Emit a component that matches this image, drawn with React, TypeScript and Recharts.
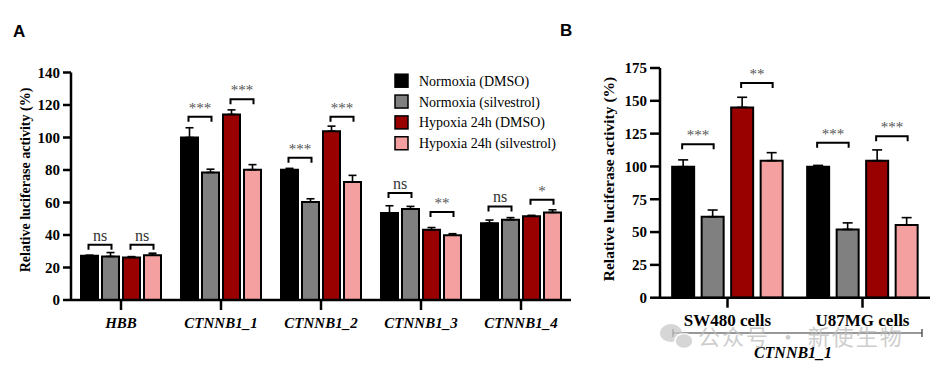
import { BarChart, Bar, XAxis, YAxis, ErrorBar, LabelList, Legend } from "recharts";

// ---- panel A data (relative luciferase activity, %) ----
const GENES = ["HBB", "CTNNB1_1", "CTNNB1_2", "CTNNB1_3", "CTNNB1_4"];
const A_NORM_DMSO = [27.2, 100, 80.2, 53.5, 47.3];
const A_NORM_DMSO_SD = [0.4, 6, 0.8, 4.5, 1.9];
const A_NORM_SIL = [26.8, 78.5, 60.3, 56, 49.4];
const A_NORM_SIL_SD = [2.4, 2, 2, 1.6, 1.3];
const A_HYP_DMSO = [26.2, 114.2, 103.9, 43.2, 51.6];
const A_HYP_DMSO_SD = [0.5, 2.8, 3.1, 1.4, 0.5];
const A_HYP_SIL = [27.6, 80.2, 72.6, 39.9, 53.9];
const A_HYP_SIL_SD = [1.2, 3.1, 4.1, 0.9, 1.6];
// significance brackets: normoxia pair and hypoxia pair
const A_SIG1_LEVEL = [34, 112.8, 87.6, 65.8, 57.6];
const A_SIG1_TEXT = ["ns", "***", "***", "ns", "ns"];
const A_SIG2_LEVEL = [34, 123.5, 112.8, 54.1, 61.7];
const A_SIG2_TEXT = ["ns", "***", "***", "**", "*"];
const A_TICKS = [0, 20, 40, 60, 80, 100, 120, 140];

// ---- panel B data ----
const CELLS = ["SW480 cells", "U87MG cells"];
const B_NORM_DMSO = [99.8, 99.8];
const B_NORM_DMSO_SD = [5.2, 1];
const B_NORM_SIL = [61.7, 52];
const B_NORM_SIL_SD = [5.1, 5];
const B_HYP_DMSO = [145, 104.4];
const B_HYP_DMSO_SD = [7.7, 8.2];
const B_HYP_SIL = [104.4, 55.4];
const B_HYP_SIL_SD = [6.1, 5.6];
const B_SIG1_LEVEL = [117, 118];
const B_SIG1_TEXT = ["***", "***"];
const B_SIG2_LEVEL = [163.6, 123];
const B_SIG2_TEXT = ["**", "***"];
const B_TICKS = [0, 25, 50, 75, 100, 125, 150, 175];

const SERIES = [
  { key: "normDmso", name: "Normoxia (DMSO)", color: "#000000" },
  { key: "normSil", name: "Normoxia (silvestrol)", color: "#808080" },
  { key: "hypDmso", name: "Hypoxia 24h (DMSO)", color: "#990000" },
  { key: "hypSil", name: "Hypoxia 24h (silvestrol)", color: "#f4a0a0" },
];

const SERIF = "Liberation Serif, Tinos, Times New Roman, DejaVu Serif, serif";

function buildRows(cats: string[], cols: number[][], sds: number[][]) {
  return cats.map((name, i) => {
    const row: any = { name };
    SERIES.forEach((s, j) => {
      row[s.key] = cols[j][i];
      row[s.key + "Err"] = [0, sds[j][i]];
    });
    return row;
  });
}

const dataA = buildRows(
  GENES,
  [A_NORM_DMSO, A_NORM_SIL, A_HYP_DMSO, A_HYP_SIL],
  [A_NORM_DMSO_SD, A_NORM_SIL_SD, A_HYP_DMSO_SD, A_HYP_SIL_SD],
);
const dataB = buildRows(
  CELLS,
  [B_NORM_DMSO, B_NORM_SIL, B_HYP_DMSO, B_HYP_SIL],
  [B_NORM_DMSO_SD, B_NORM_SIL_SD, B_HYP_DMSO_SD, B_HYP_SIL_SD],
);

// bracket drawn from the centre of this bar to the centre of the next one;
// the level is converted to pixels with the bar's own geometry
function bracket(levels: number[], texts: string[], gap: number) {
  return (props: any) => {
    const vb = props.viewBox ?? {};
    const x = Number(props.x ?? vb.x);
    const y = Number(props.y ?? vb.y);
    const w = Number(props.width ?? vb.width);
    const h = Number(props.height ?? vb.height);
    const v = Number(props.value);
    const i = props.index;
    if (!v || !isFinite(x)) return null;
    const base = y + h;
    const yl = base - (levels[i] * h) / v;
    const x1 = x + w / 2 - 1;
    const x2 = x + w / 2 + w + gap + 1;
    const t = texts[i];
    return (
      <g>
        <path d={`M${x1},${yl + 5}V${yl}H${x2}V${yl + 5}`} fill="none" stroke="#000" strokeWidth={2} />
        <text
          x={(x1 + x2) / 2}
          y={yl - 4}
          textAnchor="middle"
          style={{ fontFamily: SERIF }}
          fontSize={t === "ns" ? 16 : 15}
          fill={t === "ns" ? "#333" : "#555"}
        >
          {t}
        </text>
      </g>
    );
  };
}

function LegendBox() {
  return (
    <svg width={180} height={84}>
      {SERIES.map((s, i) => {
        const cy = 8.7 + i * 20.85;
        return (
          <g key={s.key}>
            <rect x={1} y={cy - 6.5} width={13} height={13} fill={s.color} stroke="#000" strokeWidth={1.5} />
            <text x={25} y={cy + 5} style={{ fontFamily: SERIF }} fontSize={14} fill="#000">
              {s.name}
            </text>
          </g>
        );
      })}
    </svg>
  );
}

const axisLine = { stroke: "#000", strokeWidth: 2.5 };
const numTick = { fill: "#000", fontSize: 15, fontWeight: 700, fontFamily: SERIF, style: { fontFamily: SERIF } };

export default function App() {
  return (
    <div style={{ position: "absolute", left: 0, top: 0, width: 946, height: 376, background: "#fff", overflow: "hidden", fontFamily: SERIF }}>
      <div style={{ position: "absolute", left: 0, top: 0 }}>
        <BarChart
          width={600}
          height={376}
          data={dataA}
          margin={{ top: 72.5, right: 29, bottom: 46, left: 11 }}
          barGap={4}
          barCategoryGap="10%"
          style={{ fontFamily: SERIF }}
        >
          <XAxis
            dataKey="name"
            height={30}
            axisLine={axisLine}
            tickLine={axisLine}
            tickSize={10}
            tickMargin={7}
            interval={0}
            tick={{ fill: "#000", fontSize: 15, fontWeight: 700, fontStyle: "italic", fontFamily: SERIF, style: { fontFamily: SERIF } }}
          />
          <YAxis
            width={60}
            domain={[0, 140]}
            ticks={A_TICKS}
            interval={0}
            axisLine={axisLine}
            tickLine={axisLine}
            tickSize={8}
            tickMargin={3}
            tick={numTick}
          />
          <Legend
            layout="vertical"
            align="center"
            verticalAlign="middle"
            content={() => <LegendBox />}
            wrapperStyle={{ left: 394, top: 72, width: 180, height: 84 }}
          />
          {SERIES.map((s, j) => (
            <Bar key={s.key} dataKey={s.key} name={s.name} fill={s.color} stroke="#000" strokeWidth={2} isAnimationActive={false}>
              <ErrorBar dataKey={s.key + "Err"} direction="y" width={4} stroke="#000" strokeWidth={1.6} />
              {j === 0 && <LabelList dataKey={s.key} content={bracket(A_SIG1_LEVEL, A_SIG1_TEXT, 4)} />}
              {j === 2 && <LabelList dataKey={s.key} content={bracket(A_SIG2_LEVEL, A_SIG2_TEXT, 4)} />}
            </Bar>
          ))}
        </BarChart>
      </div>

      <div style={{ position: "absolute", left: 580, top: 0 }}>
        <BarChart
          width={366}
          height={376}
          data={dataB}
          margin={{ top: 68, right: 16, bottom: 48.3, left: 20 }}
          barGap={7.5}
          barCategoryGap="9%"
          style={{ fontFamily: SERIF }}
        >
          <XAxis
            dataKey="name"
            height={30}
            axisLine={axisLine}
            tickLine={axisLine}
            tickSize={10}
            tickMargin={6}
            interval={0}
            tick={{ fill: "#000", fontSize: 17, fontWeight: 700, fontFamily: SERIF, style: { fontFamily: SERIF } }}
          />
          <YAxis
            width={60}
            domain={[0, 175]}
            ticks={B_TICKS}
            interval={0}
            axisLine={axisLine}
            tickLine={axisLine}
            tickSize={10}
            tickMargin={3}
            tick={numTick}
          />
          {SERIES.map((s, j) => (
            <Bar key={s.key} dataKey={s.key} name={s.name} fill={s.color} stroke="#000" strokeWidth={2} isAnimationActive={false}>
              <ErrorBar dataKey={s.key + "Err"} direction="y" width={5} stroke="#000" strokeWidth={1.6} />
              {j === 0 && <LabelList dataKey={s.key} content={bracket(B_SIG1_LEVEL, B_SIG1_TEXT, 7.5)} />}
              {j === 2 && <LabelList dataKey={s.key} content={bracket(B_SIG2_LEVEL, B_SIG2_TEXT, 7.5)} />}
            </Bar>
          ))}
        </BarChart>
      </div>

      <svg width={946} height={376} style={{ position: "absolute", left: 0, top: 0, pointerEvents: "none" }}>
        <text x={13} y={37} style={{ fontFamily: "Liberation Sans, Arial, sans-serif" }} fontWeight={700} fontSize={17}>A</text>
        <text x={560} y={36} style={{ fontFamily: "Liberation Sans, Arial, sans-serif" }} fontWeight={700} fontSize={17}>B</text>
        <text
          transform="translate(25,180) rotate(-90)"
          textAnchor="middle"
          dominantBaseline="central"
          style={{ fontFamily: SERIF }}
          fontWeight={700}
          fontSize={14}
        >
          Relative luciferase activity (%)
        </text>
        <text
          transform="translate(608,179) rotate(-90)"
          textAnchor="middle"
          dominantBaseline="central"
          style={{ fontFamily: SERIF }}
          fontWeight={700}
          fontSize={15.5}
        >
          Relative luciferase activity (%)
        </text>
        <path d="M673,329V337M673,333H922M922,329V337" stroke="#333" strokeWidth={1.2} fill="none" />
        <text x={793} y={358} textAnchor="middle" style={{ fontFamily: SERIF }} fontWeight={700} fontStyle="italic" fontSize={16}>
          CTNNB1_1
        </text>
        {/* watermark */}
        <g opacity={0.75}>
          <ellipse cx={671} cy={333} rx={11} ry={9} fill="#c9c9c9" />
          <ellipse cx={684} cy={341} rx={9} ry={7.5} fill="#c9c9c9" stroke="#fff" strokeWidth={1.5} />
          <text x={698} y={345} style={{ fontFamily: "Noto Sans CJK SC, sans-serif" }} fontSize={22} fill="#bdbdbd" letterSpacing={2}>
            公众号 · 新使生物
          </text>
        </g>
      </svg>
    </div>
  );
}
